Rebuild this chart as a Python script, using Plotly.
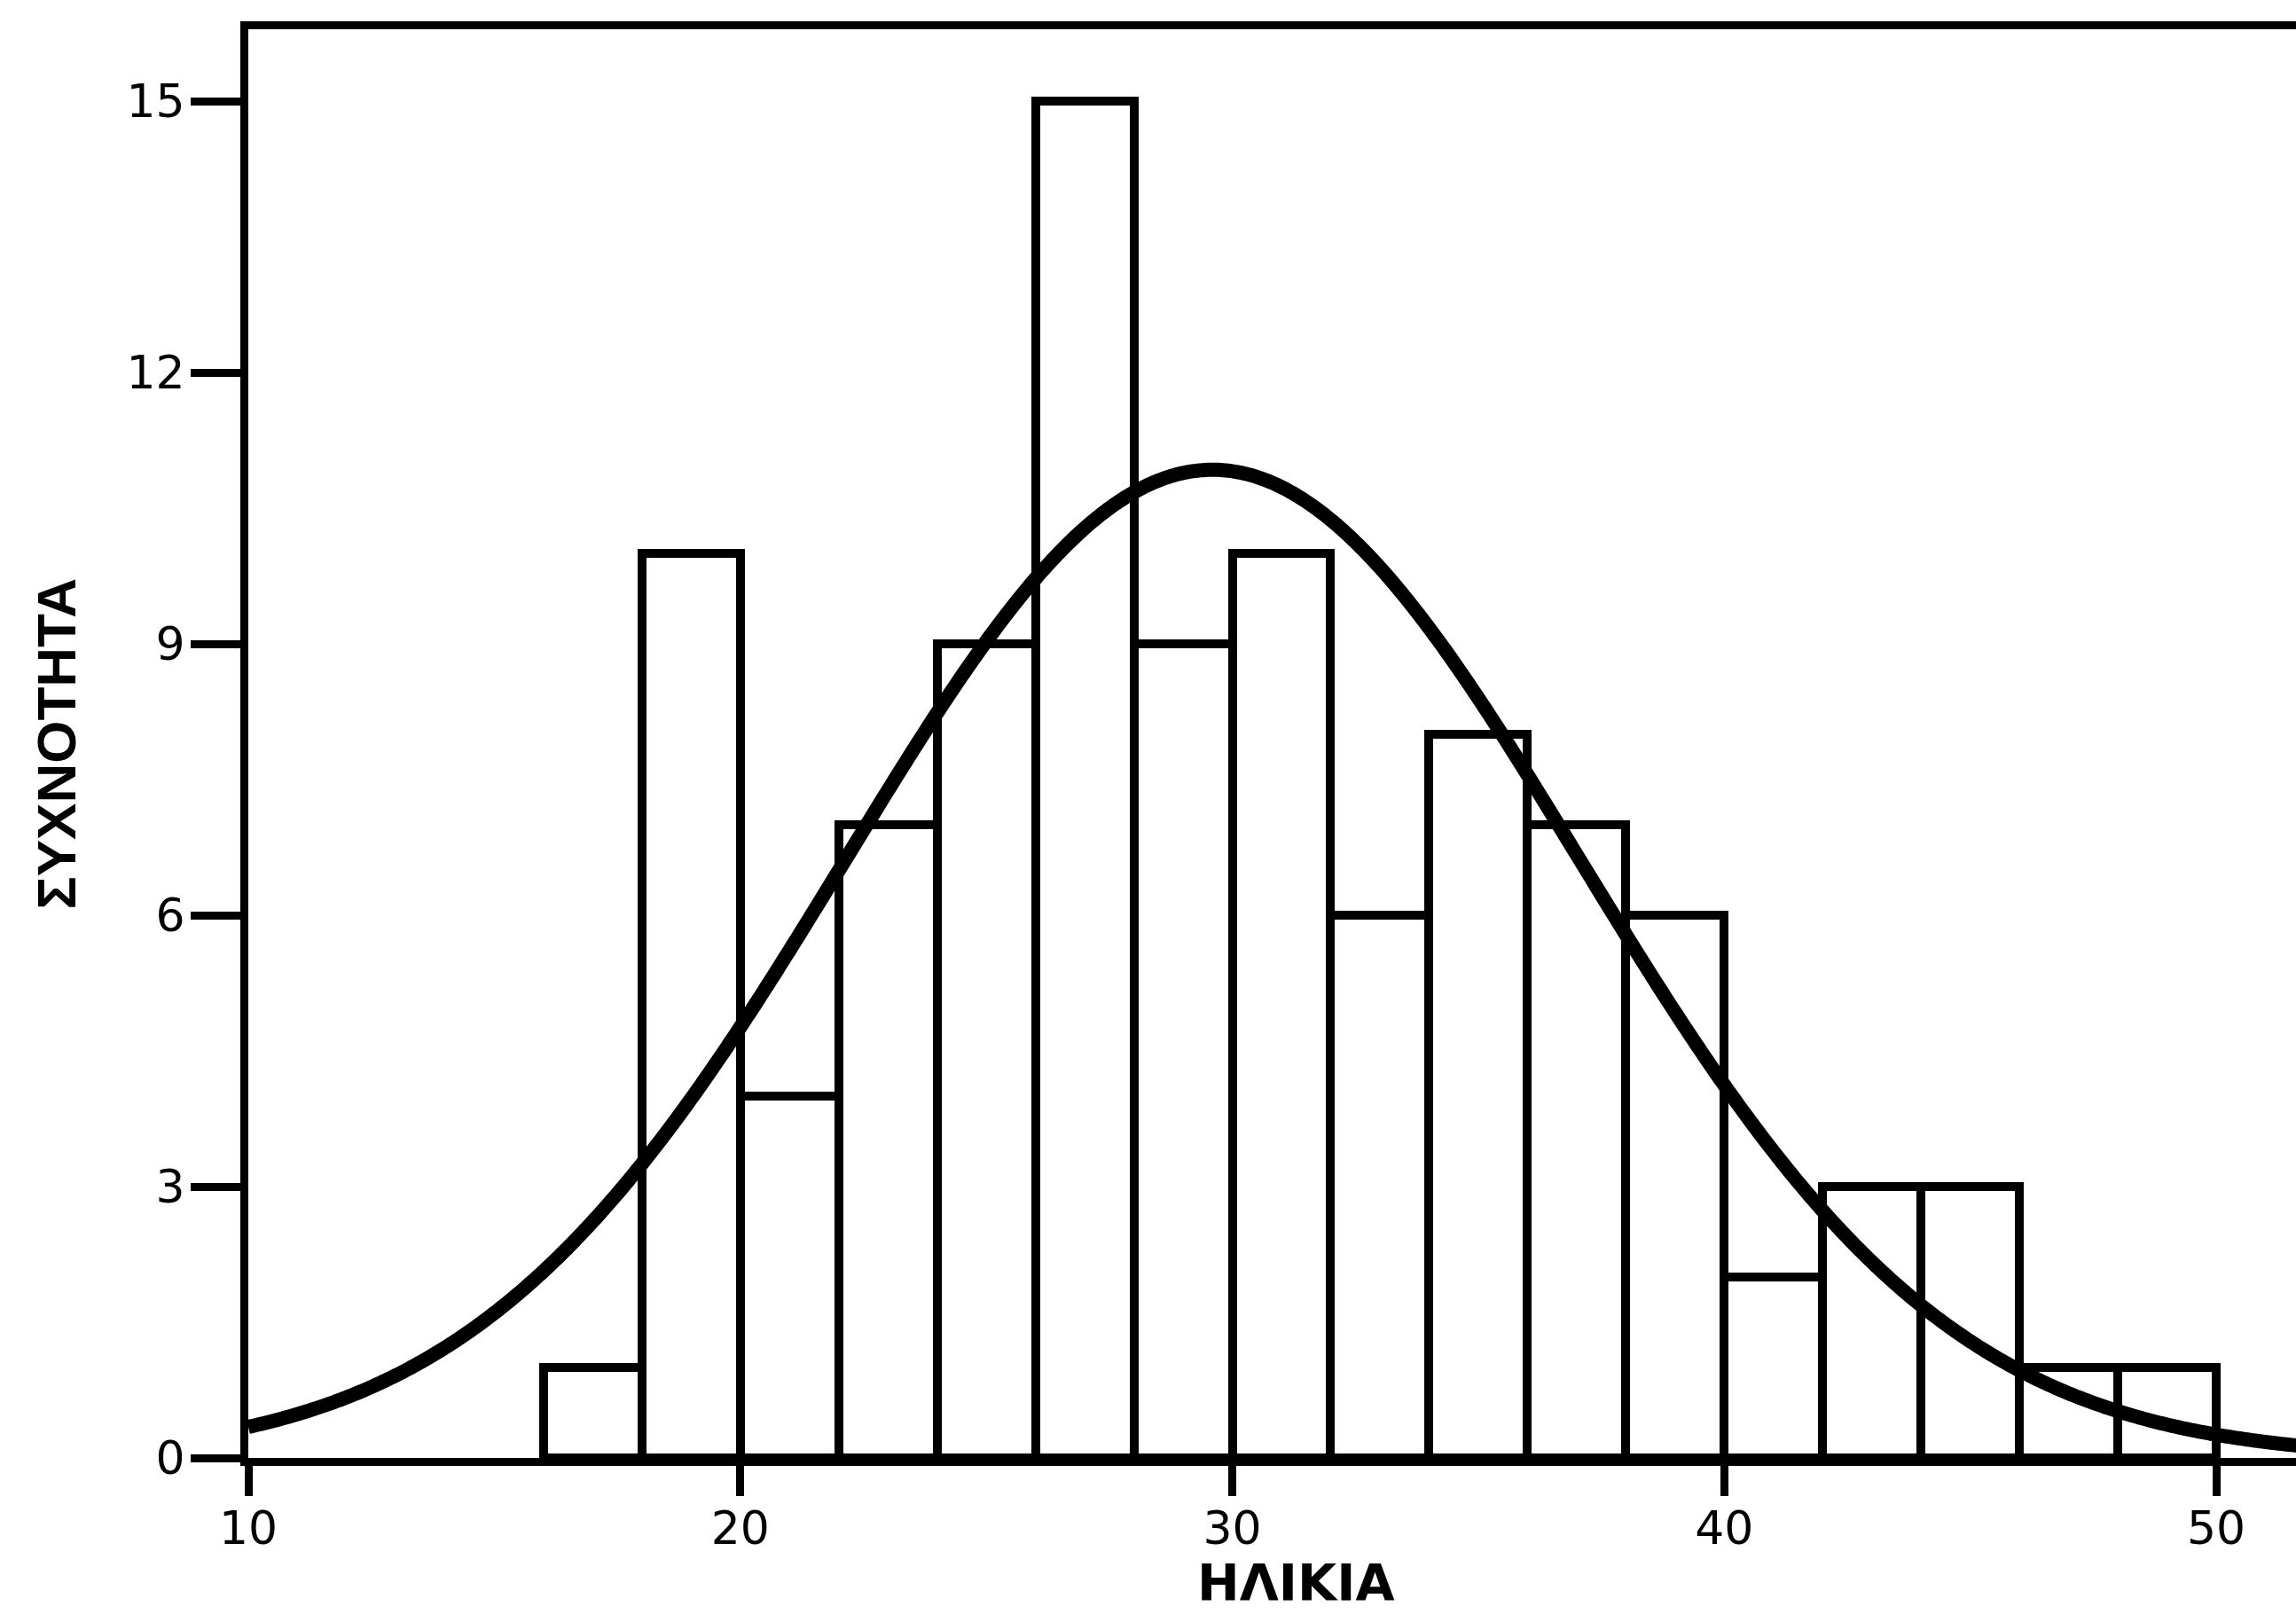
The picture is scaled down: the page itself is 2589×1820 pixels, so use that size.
import numpy as np
import plotly.graph_objects as go

# Age histogram: bins of width 2 starting at 16
bin_left = [16, 18, 20, 22, 24, 26, 28, 30, 32, 34, 36, 38, 40, 42, 44, 46, 48]
counts = [1, 10, 4, 7, 9, 15, 9, 10, 6, 8, 7, 6, 2, 3, 3, 1, 1]
bin_width = 2

# Fitted normal curve parameters
fit_mean = 29.6
fit_sd = 7.45

x_ticks = [10, 20, 30, 40, 50]
y_ticks = [0, 3, 6, 9, 12, 15]

mids = [b + bin_width / 2 for b in bin_left]
n_total = sum(counts)

xs = np.linspace(10, 52, 800)
curve = n_total * bin_width / (fit_sd * np.sqrt(2 * np.pi)) * np.exp(-0.5 * ((xs - fit_mean) / fit_sd) ** 2)

W, H = 2589, 1820
L, R, T, B = 280, 0, 33, 176
px_per_x = 55.475
px_per_y = 102.0
x_max = 10 + (W - L - R) / px_per_x
y_max = (H - T - B) / px_per_y

fig = go.Figure()
fig.add_trace(go.Bar(
    x=mids, y=counts, width=bin_width,
    marker=dict(color="white", line=dict(color="black", width=10)),
    showlegend=False, hoverinfo="skip",
))
fig.add_trace(go.Scatter(
    x=xs, y=curve, mode="lines",
    line=dict(color="black", width=16, simplify=False),
    showlegend=False, hoverinfo="skip",
))

tick_font = dict(family="DejaVu Sans, Liberation Sans, sans-serif", size=52, color="black")

fig.update_layout(
    width=W, height=H,
    margin=dict(l=L, r=R, t=T, b=B, pad=0),
    paper_bgcolor="white", plot_bgcolor="white",
    bargap=0,
    xaxis=dict(
        range=[10, x_max], tickvals=x_ticks, ticktext=[str(v) for v in x_ticks],
        showgrid=False, zeroline=False,
        showline=True, linecolor="black", linewidth=9, mirror=True,
        ticks="outside", ticklen=34, tickwidth=9, tickcolor="black",
        ticklabelstandoff=-8,
        tickfont=tick_font,
    ),
    yaxis=dict(
        range=[0, y_max], tickvals=y_ticks, ticktext=[str(v) for v in y_ticks],
        showgrid=False, zeroline=False,
        showline=True, linecolor="black", linewidth=9, mirror=False,
        ticks="outside", ticklen=56, tickwidth=9, tickcolor="black",
        ticklabelstandoff=-4,
        tickfont=tick_font,
    ),
    annotations=[
        dict(
            text="<b>ΗΛΙΚΙΑ</b>", x=31.3, xref="x",
            y=(T + (H - T - B) - 1750) / (H - T - B), yref="paper",
            xanchor="center", yanchor="top", showarrow=False,
            font=dict(family="DejaVu Sans, Liberation Sans, sans-serif", size=57, color="black"),
        ),
        dict(
            text="<b>ΣΥΧΝΟΤΗΤΑ</b>", x=(63 - L) / (W - L - R), xref="paper",
            y=0.5, yref="paper", textangle=-90,
            xanchor="center", yanchor="middle", showarrow=False,
            font=dict(family="Liberation Sans Narrow, Arial Narrow, Liberation Sans, sans-serif", size=62, color="black"),
        ),
    ],
)

fig.write_html("out.html")
